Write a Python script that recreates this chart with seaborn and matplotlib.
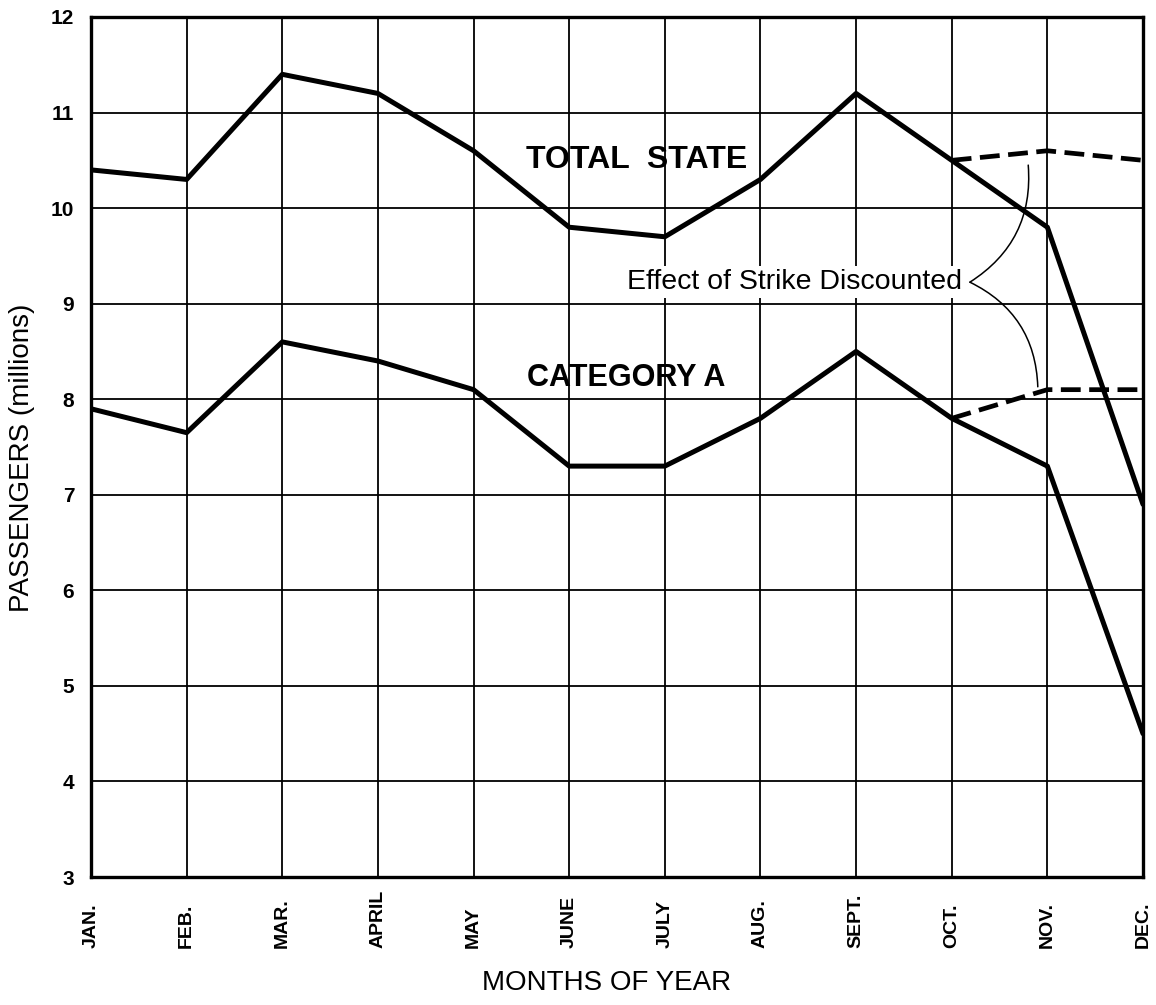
import numpy as np
import pandas as pd
import matplotlib
matplotlib.use("Agg")
import matplotlib.pyplot as plt
import seaborn as sns

# ---- data ----
months = ["JAN.", "FEB.", "MAR.", "APRIL", "MAY", "JUNE", "JULY", "AUG.",
          "SEPT.", "OCT.", "NOV.", "DEC."]
total_state = [10.4, 10.3, 11.4, 11.2, 10.6, 9.8, 9.7, 10.3, 11.2, 10.5, 9.8, 6.9]
category_a = [7.9, 7.65, 8.6, 8.4, 8.1, 7.3, 7.3, 7.8, 8.5, 7.8, 7.3, 4.5]
strike_months = ["OCT.", "NOV.", "DEC."]
total_discounted = [10.5, 10.6, 10.5]
cat_a_discounted = [7.8, 8.1, 8.1]
y_ticks = [3, 4, 5, 6, 7, 8, 9, 10, 11, 12]

sns.set_theme(style="white")
plt.rcParams["font.family"] = ["Liberation Sans", "DejaVu Sans"]
plt.rcParams["text.color"] = "black"
plt.rcParams["axes.labelcolor"] = "black"
plt.rcParams["xtick.color"] = "black"
plt.rcParams["ytick.color"] = "black"

idx = {m: i for i, m in enumerate(months)}
df_main = pd.DataFrame({"x": list(range(len(months))) * 2,
                        "y": total_state + category_a,
                        "series": ["Total State"] * 12 + ["Category A"] * 12})
df_disc = pd.DataFrame({"x": [idx[m] for m in strike_months] * 2,
                        "y": total_discounted + cat_a_discounted,
                        "series": ["Total State"] * 3 + ["Category A"] * 3})

fig = plt.figure(figsize=(11.56, 10.05), dpi=100)
ax = fig.add_axes([91 / 1156, 1 - 877 / 1005, (1143 - 91) / 1156, (877 - 17) / 1005])

for s in ["Total State", "Category A"]:
    sns.lineplot(data=df_main[df_main.series == s], x="x", y="y", ax=ax,
                 color="black", linewidth=3.6, legend=False)
    sns.lineplot(data=df_disc[df_disc.series == s], x="x", y="y", ax=ax,
                 color="black", linewidth=3.4, linestyle=(0, (4.2, 1.8)),
                 legend=False)

ax.set_xlim(0, 11)
ax.set_ylim(3, 12)
ax.set_xticks(range(len(months)))
ax.set_xticklabels(months, rotation=90, fontsize=14, fontweight="bold", color="black")
for lab in ax.get_xticklabels():
    lab.set_va("bottom")
ax.tick_params(axis="x", length=0, pad=51, colors="black")
ax.set_yticks(y_ticks)
ax.set_yticklabels([str(v) for v in y_ticks], fontsize=15, fontweight="bold", color="black")
ax.tick_params(axis="y", length=0, pad=12, colors="black")

ax.grid(True, color="black", linewidth=1.3)
ax.set_axisbelow(True)
for sp in ax.spines.values():
    sp.set_visible(True)
    sp.set_color("black")
    sp.set_linewidth(2.4)

ax.set_xlabel("MONTHS OF YEAR", fontsize=20, color="black")
ax.xaxis.set_label_coords(0.4905, -0.108)
ax.set_ylabel("PASSENGERS (millions)", fontsize=20, color="black")
ax.yaxis.set_label_coords(-0.053, 0.487)

ax.text(5.71, 10.5, "TOTAL  STATE", fontsize=23, fontweight="bold",
        ha="center", va="center", color="black")
ax.text(5.60, 8.22, "CATEGORY A", fontsize=22, fontweight="bold",
        ha="center", va="center", color="black")
ax.text(9.11, 9.225, "Effect of Strike Discounted", fontsize=20.5,
        ha="right", va="center", color="black",
        bbox=dict(boxstyle="square,pad=0.1", fc="white", ec="none"))

tip = (9.19, 9.225)
ax.annotate("", xy=(9.80, 10.45), xytext=tip,
            arrowprops=dict(arrowstyle="-", color="black", lw=1.1,
                            connectionstyle="arc3,rad=0.3", shrinkA=0, shrinkB=0))
ax.annotate("", xy=(9.90, 8.13), xytext=tip,
            arrowprops=dict(arrowstyle="-", color="black", lw=1.1,
                            connectionstyle="arc3,rad=-0.3", shrinkA=0, shrinkB=0))

fig.savefig("out.png", dpi=100, facecolor="white")
